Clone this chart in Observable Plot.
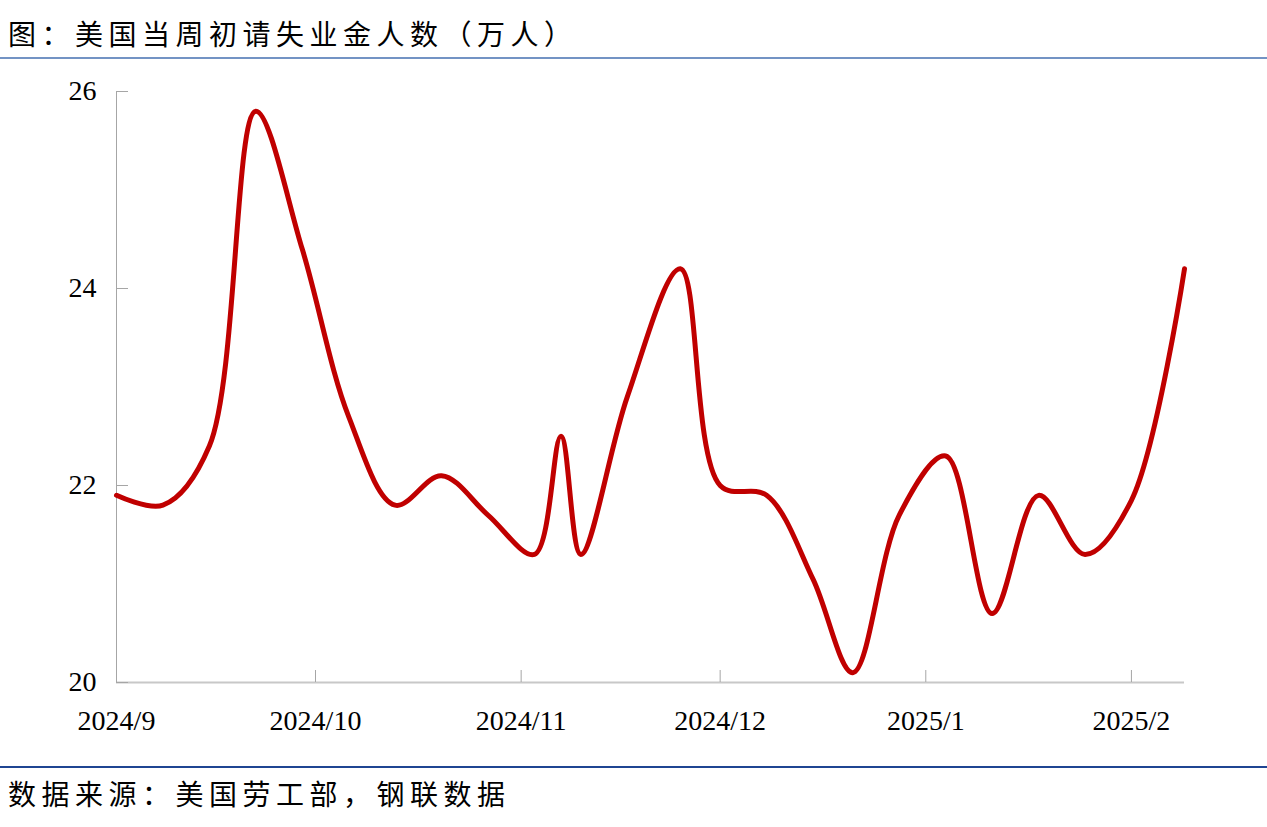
<!DOCTYPE html>
<html><head><meta charset="utf-8">
<script src="https://cdn.jsdelivr.net/npm/d3@7"></script>
<script src="https://cdn.jsdelivr.net/npm/@observablehq/plot@0.6"></script>
<style>
body{margin:0;background:#fff;width:1267px;height:827px;position:relative;overflow:hidden;}
.cjk{position:absolute;left:8px;font-family:"Noto Sans CJK SC";font-size:28px;letter-spacing:5.5px;color:#000;line-height:1;white-space:nowrap;}
#title{top:19px;}
#tline{position:absolute;left:0;top:57px;width:1267px;height:2px;background:#7393c4;}
#chart{position:absolute;left:0;top:60px;}
#bline{position:absolute;left:0;top:766px;width:1267px;height:2px;background:#1f4592;}
#source{top:779px;}
</style></head>
<body>
<div id="title" class="cjk">图：美国当周初请失业金人数（万人）</div>
<div id="tline"></div>
<div id="chart"></div>
<div id="bline"></div>
<div id="source" class="cjk">数据来源：美国劳工部，钢联数据</div>
<script>
const dates = ["2024-09-01","2024-09-08","2024-09-15","2024-09-22","2024-09-29","2024-10-06","2024-10-13","2024-10-20","2024-10-27","2024-11-03","2024-11-07","2024-11-10","2024-11-17","2024-11-25","2024-12-01","2024-12-08","2024-12-15","2024-12-21","2024-12-28","2025-01-04","2025-01-11","2025-01-18","2025-01-25","2025-02-01","2025-02-09"];
const claims = [21.9, 21.8, 22.4, 25.8, 24.4, 22.7, 21.8, 22.1, 21.7, 21.3, 22.5, 21.3, 22.9, 24.2, 22.0, 21.9, 21.05, 20.1, 21.7, 22.3, 20.7, 21.9, 21.3, 21.85, 24.2];
const xDomain = ["2024-09-01", "2025-02-09"];
const monthTicks = ["2024-09-01","2024-10-01","2024-11-01","2024-12-01","2025-01-01","2025-02-01"];
const monthLabels = ["2024/9","2024/10","2024/11","2024/12","2025/1","2025/2"];
const yDomain = [20, 26];
const yTicks = [20, 22, 24, 26];

const data = dates.map((d, i) => ({date: new Date(d), value: claims[i]}));
const tickDates = monthTicks.map(d => new Date(d));
const labelOf = new Map(tickDates.map((d, i) => [+d, monthLabels[i]]));
const xStart = new Date(xDomain[0]);

const chart = Plot.plot({
  width: 1267,
  height: 700,
  marginTop: 31,
  marginBottom: 78,
  marginLeft: 116,
  marginRight: 83,
  style: {fontFamily: "'Liberation Serif', 'Times New Roman', serif", fontSize: "28px", color: "#000", background: "#fff", overflow: "visible"},
  x: {type: "utc", domain: xDomain.map(d => new Date(d))},
  y: {domain: yDomain},
  marks: [
    Plot.ruleX([xStart], {stroke: "#a6a6a6", strokeWidth: 1}),
    Plot.ruleY([yDomain[0]], {stroke: "#c8c8c8", strokeWidth: 2}),
    Plot.axisY({ticks: yTicks, tickSize: -12, tickPadding: 32, stroke: "#a6a6a6", label: null, tickFormat: d => String(d)}),
    Plot.axisX({ticks: tickDates, tickSize: -12, tickPadding: 40, stroke: "#a6a6a6", label: null, tickFormat: d => labelOf.get(+d)}),
    Plot.line(data, {x: "date", y: "value", curve: "catmull-rom", stroke: "#c00000", strokeWidth: 5, strokeLinecap: "round", strokeLinejoin: "round"})
  ]
});
document.getElementById("chart").appendChild(chart);
</script>
</body></html>
